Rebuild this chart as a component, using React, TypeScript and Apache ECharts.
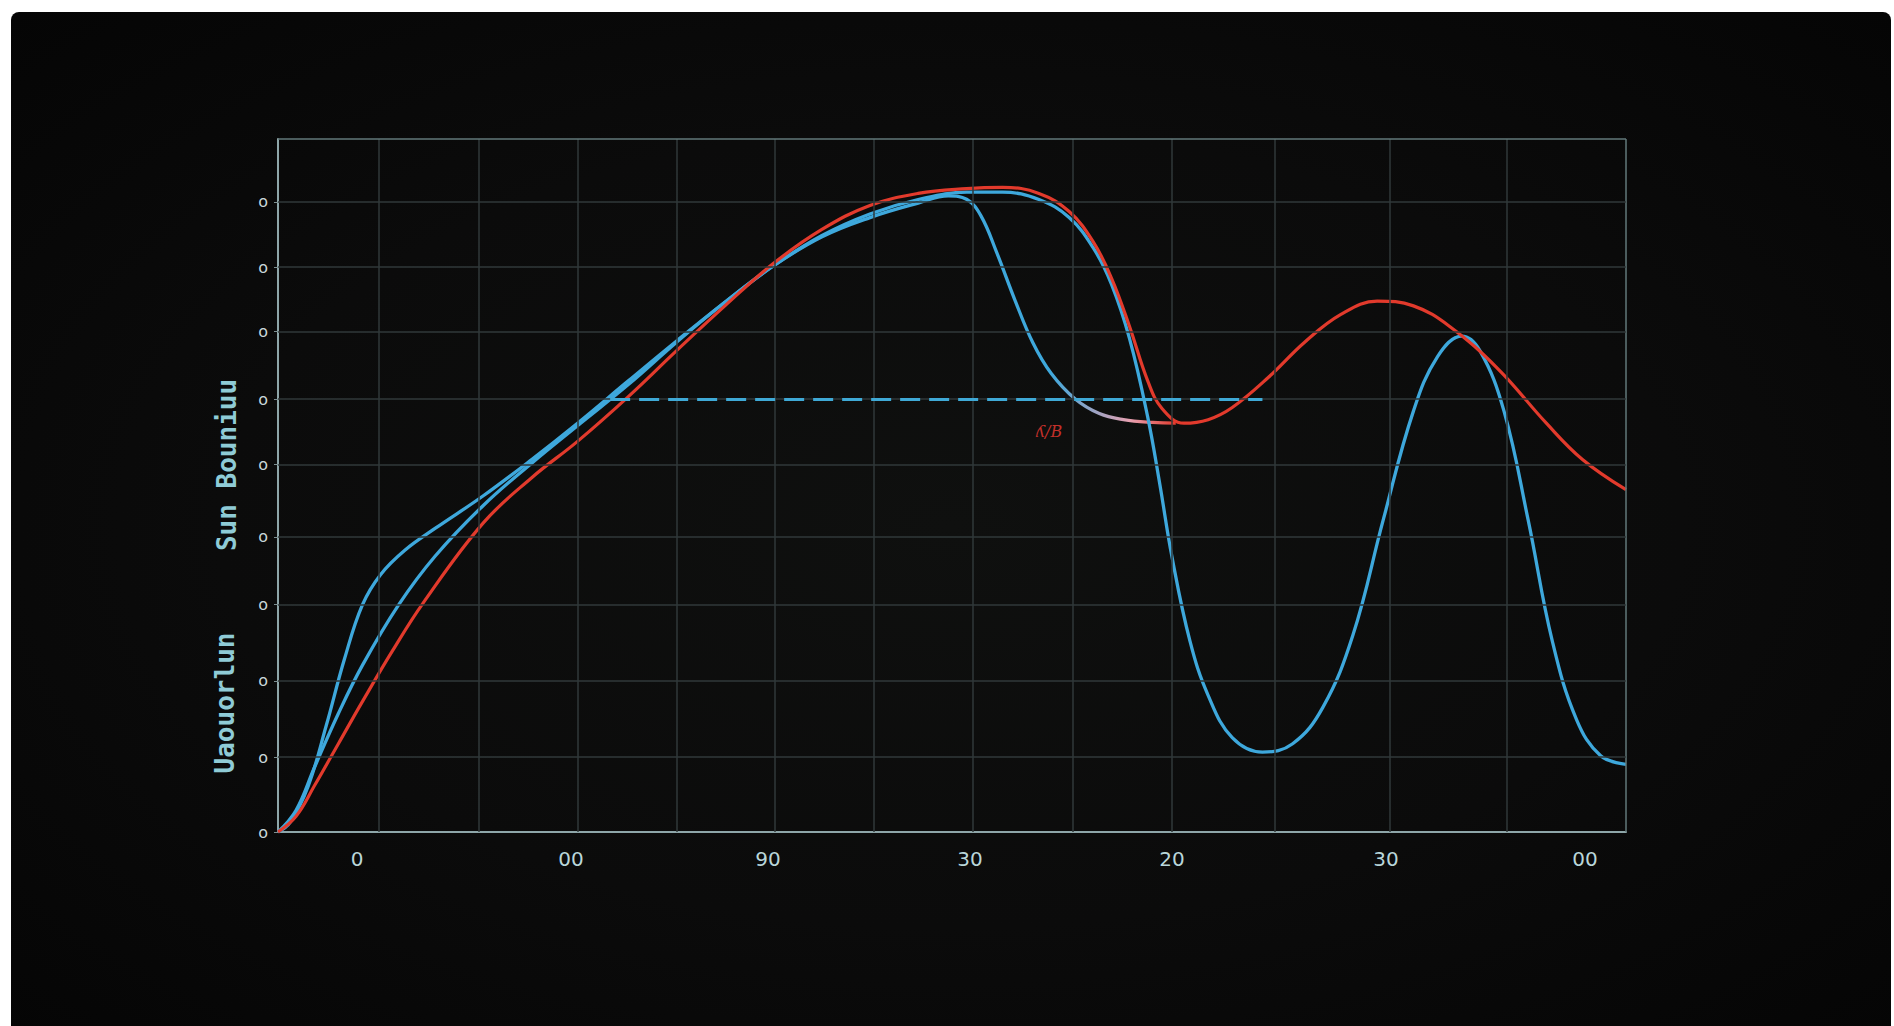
import React, { useEffect, useRef } from "react";
import * as echarts from "echarts";

// ---- data (x: 0..100 across the plot, y: 0..100 bottom to top) ----
const X_GRID = [7.44, 14.87, 22.22, 29.57, 36.83, 44.18, 51.52, 58.96, 66.31, 73.92, 82.44, 91.13, 100];
const Y_GRID = [10.82, 21.82, 32.81, 42.58, 53.05, 62.48, 72.25, 81.5, 90.92, 100];

const X_LABEL_POS = [5.86, 21.74, 36.35, 51.34, 66.32, 82.2, 96.96];
const X_LABELS = ["0", "00", "90", "30", "20", "30", "00"];
const Y_LABEL_POS = [0, 10.82, 21.82, 32.81, 42.58, 53.05, 62.48, 72.25, 81.5, 90.92];
const Y_LABEL = "o";

const Y_NAME_UPPER = "Sun Bouniuu";
const Y_NAME_LOWER = "Uaouorlun";
const NOTE_TEXT = "ʎ/B";
const NOTE_POS = [57.2, 57.8];

const DASH_START = [24.64, 62.4];
const DASH_END = [73.03, 62.4];

const redCurve = [
  [0, 0], [1.34, 2.27], [2.69, 6.63], [4.48, 12.74], [6.27, 18.85], [8.51, 26.2],
  [10.75, 33.0], [15.23, 44.6], [18.82, 51.13], [22.22, 56.37], [25.99, 62.83],
  [29.57, 69.46], [33.15, 75.92], [36.74, 82.02], [40.32, 86.91], [43.91, 90.4],
  [47.49, 92.15], [51.08, 92.84], [53.76, 93.02], [56.45, 92.15], [58.69, 89.53],
  [60.48, 85.16], [61.83, 79.93], [63.17, 72.95], [64.52, 65.1], [65.59, 61.08],
  [67.2, 58.99], [69.0, 59.5], [70.79, 61.26], [73.48, 65.62], [76.16, 70.68],
  [78.85, 74.69], [81.54, 76.61], [84.23, 75.92], [86.92, 72.95], [90.5, 66.84],
  [94.09, 58.99], [96.77, 53.75], [100, 49.39],
];

const blueDeep = [
  [0, 0], [1.34, 3.14], [2.69, 9.25], [4.48, 17.1], [6.27, 24.08], [8.96, 32.81],
  [11.65, 39.79], [15.23, 47.12], [18.82, 53.23], [22.22, 58.64], [25.99, 64.57],
  [29.57, 70.68], [33.15, 76.44], [36.74, 81.68], [40.32, 86.04], [43.91, 89.18],
  [47.49, 91.27], [51.08, 92.32], [53.76, 92.32], [56.45, 91.27], [58.69, 88.66],
  [60.48, 84.29], [61.83, 79.06], [63.17, 71.2], [64.52, 59.86], [65.41, 50.26],
  [66.31, 39.79], [67.65, 27.57], [69.0, 19.72], [70.79, 13.61], [73.03, 11.52],
  [75.27, 12.74], [77.51, 17.98], [79.75, 28.45], [81.99, 45.03], [84.23, 60.73],
  [86.02, 68.59], [87.81, 71.55], [89.16, 69.46], [90.95, 60.73], [92.74, 45.03],
  [94.53, 27.57], [96.33, 16.23], [98.12, 11.0], [100, 9.77],
];

const blueEarly = [
  [0, 0], [0.9, 1.4], [2.24, 6.63], [3.58, 15.36], [4.93, 24.96], [6.27, 32.81],
  [7.62, 37.17], [9.41, 40.66], [11.65, 43.8], [15.23, 48.52], [18.82, 53.75],
  [22.22, 58.99], [25.99, 65.1], [29.57, 70.86], [33.15, 76.44], [36.74, 81.68],
  [40.32, 85.86], [43.91, 88.66], [47.49, 90.75], [49.73, 91.8], [51.08, 91.3],
  [52.15, 88.9], [53.32, 83.6], [54.66, 76.8], [56.0, 70.6], [57.35, 66.2],
  [59.14, 62.48], [60.93, 60.38], [62.72, 59.51], [64.9, 59.1], [66.6, 59.0],
];

const RED = "#e23a2c";
const BLUE = "#3ea8dc";
const GRID_COLOR = "#30383a";
const FRAME_COLOR = "#62787a";
const LABEL_COLOR = "#b9d6da";

export default function App() {
  const ref = useRef<HTMLDivElement>(null);

  useEffect(() => {
    if (!ref.current) return;
    const chart = echarts.init(ref.current, undefined, { renderer: "svg" });

    const gridLines: any[] = [];
    X_GRID.forEach((x) =>
      gridLines.push({
        xAxis: x,
        lineStyle: { color: x === 100 ? FRAME_COLOR : GRID_COLOR, width: 1.5, type: "solid" },
      })
    );
    Y_GRID.forEach((y) =>
      gridLines.push({
        yAxis: y,
        lineStyle: { color: y === 100 ? FRAME_COLOR : GRID_COLOR, width: 1.5, type: "solid" },
      })
    );

    const lineSeries = (name: string, data: number[][], color: any, width: number, z: number) => ({
      type: "line",
      name,
      data,
      smooth: 0.4,
      showSymbol: false,
      z,
      lineStyle: { width, color },
    });

    const option: any = {
      animation: false,
      backgroundColor: "transparent",
      grid: { left: 278, top: 139, width: 1348, height: 693, containLabel: false },
      xAxis: {
        type: "value",
        min: 0,
        max: 100,
        splitLine: { show: false },
        axisLine: { show: true, lineStyle: { color: "#8ea6a9", width: 2 } },
        axisTick: { show: false },
        axisLabel: {
          show: true,
          customValues: X_LABEL_POS,
          formatter: (v: number) => {
            const i = X_LABEL_POS.findIndex((p) => Math.abs(p - v) < 0.01);
            return i >= 0 ? X_LABELS[i] : "";
          },
          color: LABEL_COLOR,
          fontSize: 20,
          fontFamily: "DejaVu Sans",
          margin: 17,
        },
      },
      yAxis: {
        type: "value",
        min: 0,
        max: 100,
        splitLine: { show: false },
        axisLine: { show: true, lineStyle: { color: "#8ea6a9", width: 2 } },
        axisTick: { show: true, customValues: Y_LABEL_POS, length: 4, lineStyle: { color: "#7d9092" } },
        axisLabel: {
          show: true,
          customValues: Y_LABEL_POS,
          formatter: () => Y_LABEL,
          color: "#c9d8da",
          fontSize: 16,
          fontFamily: "DejaVu Sans",
          margin: 10,
        },
      },
      graphic: [
        {
          type: "text",
          x: 227,
          y: 465,
          rotation: Math.PI / 2,
          style: {
            text: Y_NAME_UPPER,
            fill: "#8fcbd6",
            font: "bold 26px 'DejaVu Sans Mono'",
            align: "center",
            verticalAlign: "middle",
          },
        },
        {
          type: "text",
          x: 225,
          y: 703,
          rotation: Math.PI / 2,
          style: {
            text: Y_NAME_LOWER,
            fill: "#8fcbd6",
            font: "bold 26px 'DejaVu Sans Mono'",
            align: "center",
            verticalAlign: "middle",
          },
        },
      ],
      series: [
        {
          type: "line",
          name: "grid",
          data: [],
          z: 1,
          silent: true,
          markLine: {
            silent: true,
            symbol: ["none", "none"],
            label: { show: false },
            animation: false,
            data: gridLines,
          },
        },
        {
          type: "line",
          name: "dash",
          data: [],
          z: 2,
          silent: true,
          markLine: {
            silent: true,
            symbol: ["none", "none"],
            label: { show: false },
            animation: false,
            lineStyle: { color: "#3fa9d6", width: 3, type: [20, 9] },
            data: [[{ coord: DASH_START }, { coord: DASH_END }]],
          },
          markPoint: {
            silent: true,
            symbol: "circle",
            symbolSize: 0,
            animation: false,
            label: {
              show: true,
              formatter: NOTE_TEXT,
              color: "#c2302a",
              fontSize: 16,
              fontFamily: "DejaVu Serif",
              fontStyle: "italic",
            },
            data: [{ coord: NOTE_POS }],
          },
        },
        lineSeries(
          "blueEarly",
          blueEarly,
          new echarts.graphic.LinearGradient(0, 0, 1, 0, [
            { offset: 0, color: BLUE },
            { offset: 0.86, color: BLUE },
            { offset: 0.95, color: "#e8a0b0" },
            { offset: 1, color: RED },
          ]),
          3.3,
          3
        ),
        lineSeries("blueDeep", blueDeep, BLUE, 3.3, 3),
        lineSeries("red", redCurve, RED, 3.2, 4),
      ],
    };

    chart.setOption(option);
    return () => chart.dispose();
  }, []);

  return (
    <div
      style={{
        position: "fixed",
        left: 0,
        top: 0,
        width: 1894,
        height: 1026,
        background: "#ffffff",
        overflow: "hidden",
      }}
    >
      <div
        style={{
          position: "absolute",
          left: 11,
          top: 12,
          width: 1880,
          height: 1030,
          borderRadius: 8,
          background:
            "radial-gradient(ellipse at 50% 50%, #0f100f 0%, #0b0b0b 55%, #050505 100%)",
        }}
      />
      <div ref={ref} style={{ position: "absolute", left: 0, top: 0, width: 1894, height: 1026 }} />
    </div>
  );
}
